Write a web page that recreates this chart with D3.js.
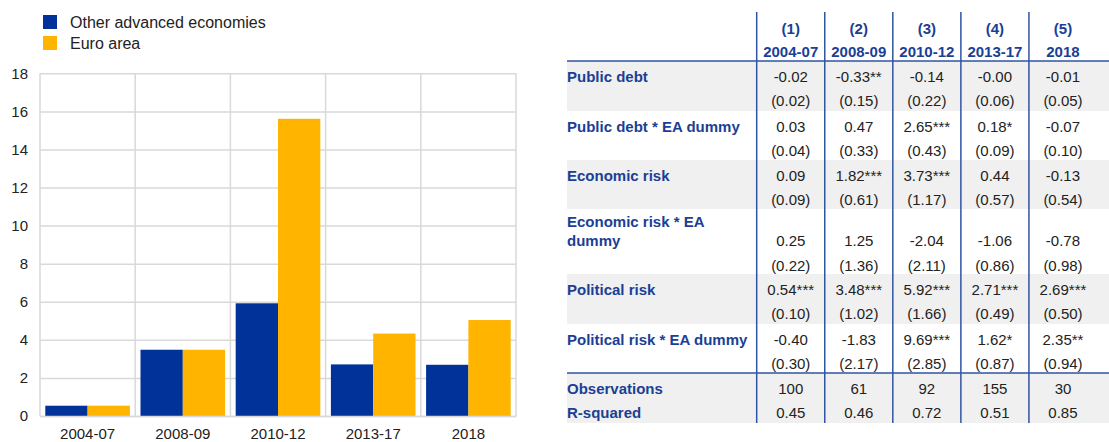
<!DOCTYPE html>
<html>
<head>
<meta charset="utf-8">
<script src="https://cdn.jsdelivr.net/npm/d3@7"></script>
<style>
  body { margin: 0; background: #fff; }
  svg { font-family: "Liberation Sans", Arial, sans-serif; display: block; }
</style>
</head>
<body>
<div id="chart"></div>
<script>
// bar chart data
const periods = ["2004-07", "2008-09", "2010-12", "2013-17", "2018"];
const otherAdvanced = [0.54, 3.48, 5.92, 2.71, 2.69];
const euroArea = [0.54, 3.48, 15.61, 4.33, 5.04];
const yTicks = [0, 2, 4, 6, 8, 10, 12, 14, 16, 18];
const seriesNames = ["Other advanced economies", "Euro area"];

// regression table data
const colNumbers = ["(1)", "(2)", "(3)", "(4)", "(5)"];
const rowLabels = ["Public debt", "Public debt * EA dummy", "Economic risk",
  "Economic risk * EA dummy", "Political risk", "Political risk * EA dummy"];
const coefs = [
  ["-0.02", "-0.33**", "-0.14", "-0.00", "-0.01"],
  ["0.03", "0.47", "2.65***", "0.18*", "-0.07"],
  ["0.09", "1.82***", "3.73***", "0.44", "-0.13"],
  ["0.25", "1.25", "-2.04", "-1.06", "-0.78"],
  ["0.54***", "3.48***", "5.92***", "2.71***", "2.69***"],
  ["-0.40", "-1.83", "9.69***", "1.62*", "2.35**"]
];
const stdErrs = [
  ["(0.02)", "(0.15)", "(0.22)", "(0.06)", "(0.05)"],
  ["(0.04)", "(0.33)", "(0.43)", "(0.09)", "(0.10)"],
  ["(0.09)", "(0.61)", "(1.17)", "(0.57)", "(0.54)"],
  ["(0.22)", "(1.36)", "(2.11)", "(0.86)", "(0.98)"],
  ["(0.10)", "(1.02)", "(1.66)", "(0.49)", "(0.50)"],
  ["(0.30)", "(2.17)", "(2.85)", "(0.87)", "(0.94)"]
];
const statLabels = ["Observations", "R-squared"];
const observations = ["100", "61", "92", "155", "30"];
const rSquared = ["0.45", "0.46", "0.72", "0.51", "0.85"];

const W = 1109, H = 442;
const blue = "#003299", yellow = "#ffb400", ink = "#222", grid = "#d9d9d9";
const headBlue = "#1a3f95", lineBlue = "#2f54a3";
const fs = 15;

const svg = d3.select("#chart").append("svg")
  .attr("width", W).attr("height", H);

// ---- legend
const legend = svg.append("g");
seriesNames.forEach((name, i) => {
  legend.append("rect")
    .attr("x", 43).attr("y", 15 + i * 21)
    .attr("width", 14).attr("height", 14)
    .attr("fill", i === 0 ? blue : yellow);
  legend.append("text")
    .attr("x", 70).attr("y", 22 + i * 21)
    .attr("dy", "0.35em")
    .attr("font-size", 16).attr("fill", ink)
    .text(name);
});

// ---- bar chart
const plot = {left: 40, right: 516, top: 73.3, bottom: 416};

const x = d3.scaleBand()
  .domain(periods)
  .range([plot.left, plot.right]);

const y = d3.scaleLinear()
  .domain([0, 18])
  .range([plot.bottom, plot.top]);

const xSub = d3.scaleBand()
  .domain([0, 1])
  .range([0, x.bandwidth()])
  .paddingOuter(0.125);

// horizontal grid + y labels
const yAxis = d3.axisLeft(y)
  .tickValues(yTicks)
  .tickSize(-(plot.right - plot.left))
  .tickPadding(12);

const gy = svg.append("g")
  .attr("transform", `translate(${plot.left},0)`)
  .call(yAxis);
gy.select(".domain").remove();
gy.selectAll(".tick line").attr("stroke", grid).attr("stroke-width", 1.5);
gy.selectAll(".tick text").attr("font-size", fs).attr("fill", ink)
  .attr("font-family", "Liberation Sans, Arial, sans-serif");

// vertical grid at band edges
const edges = periods.map(p => x(p)).concat([plot.right]);
svg.append("g").selectAll("line")
  .data(edges)
  .join("line")
  .attr("x1", d => d).attr("x2", d => d)
  .attr("y1", plot.top).attr("y2", plot.bottom)
  .attr("stroke", grid).attr("stroke-width", 1.5);

// bars
const barData = periods.map((p, i) => [
  {p, k: 0, v: otherAdvanced[i]},
  {p, k: 1, v: euroArea[i]}
]).flat();

svg.append("g").selectAll("rect")
  .data(barData)
  .join("rect")
  .attr("x", d => x(d.p) + xSub(d.k))
  .attr("width", xSub.bandwidth())
  .attr("y", d => y(d.v))
  .attr("height", d => y(0) - y(d.v))
  .attr("fill", d => d.k === 0 ? blue : yellow);

// x axis
const gx = svg.append("g")
  .attr("transform", `translate(0,${plot.bottom})`)
  .call(d3.axisBottom(x).tickSize(0).tickPadding(12));
gx.select(".domain").attr("stroke", grid).attr("stroke-width", 1.5);
gx.selectAll(".tick text").attr("font-size", fs).attr("fill", ink)
  .attr("font-family", "Liberation Sans, Arial, sans-serif");

// ---- regression table
const tbl = {left: 567, colLeft: 756.7, colRight: 1097, top: 12, bottom: 423};
const col = d3.scaleBand()
  .domain(d3.range(colNumbers.length))
  .range([tbl.colLeft, tbl.colRight]);

// row layout: height of each block
const headerBottom = 61;
const rowHeights = [50, 49, 49, 65, 50, 49];
let acc = headerBottom;
const rowTops = rowHeights.map(h => { const t = acc; acc += h; return t; });
const statsTop = acc;
const statsBottom = tbl.bottom;

const tg = svg.append("g");

function label(xx, yy, txt) {
  tg.append("text").attr("x", xx).attr("y", yy).attr("dy", "0.35em")
    .attr("font-size", fs).attr("font-weight", "bold").attr("fill", headBlue)
    .text(txt);
}
function cell(i, yy, txt, bold) {
  tg.append("text").attr("x", col(i) + col.bandwidth() / 2).attr("y", yy)
    .attr("dy", "0.35em").attr("text-anchor", "middle")
    .attr("font-size", fs).attr("font-weight", bold ? "bold" : null)
    .attr("fill", bold ? headBlue : ink).text(txt);
}

// shaded bands
rowTops.forEach((t, i) => {
  if (i % 2 === 0) {
    tg.append("rect").attr("x", tbl.left).attr("y", t)
      .attr("width", W - tbl.left).attr("height", rowHeights[i])
      .attr("fill", "#f0f0f0");
  }
});
tg.append("rect").attr("x", tbl.left).attr("y", statsTop)
  .attr("width", W - tbl.left).attr("height", statsBottom - statsTop)
  .attr("fill", "#f0f0f0");

// header
colNumbers.forEach((c, i) => {
  cell(i, 29, c, true);
  cell(i, 52, periods[i], true);
});

// body rows
rowLabels.forEach((lab, r) => {
  const t = rowTops[r];
  const valY = r === 3 ? t + 32 : t + 16;
  const seY = r === 3 ? t + 57 : t + 40;
  if (r === 3) {
    label(tbl.left, t + 13, "Economic risk * EA");
    label(tbl.left, t + 32, "dummy");
  } else {
    label(tbl.left, valY, lab);
  }
  coefs[r].forEach((v, i) => {
    cell(i, valY, v);
    cell(i, seY, stdErrs[r][i]);
  });
});

// stats rows
[observations, rSquared].forEach((vals, k) => {
  const yy = statsTop + 16 + k * 24;
  label(tbl.left, yy, statLabels[k]);
  vals.forEach((v, i) => cell(i, yy, v));
});

// rules
[headerBottom, statsTop].forEach(yy => {
  tg.append("line").attr("x1", tbl.left).attr("x2", W)
    .attr("y1", yy).attr("y2", yy)
    .attr("stroke", lineBlue).attr("stroke-width", 1.5);
});
d3.range(colNumbers.length).forEach(i => {
  tg.append("line").attr("x1", col(i)).attr("x2", col(i))
    .attr("y1", tbl.top).attr("y2", tbl.bottom)
    .attr("stroke", lineBlue).attr("stroke-width", 1.5);
});
</script>
</body>
</html>
